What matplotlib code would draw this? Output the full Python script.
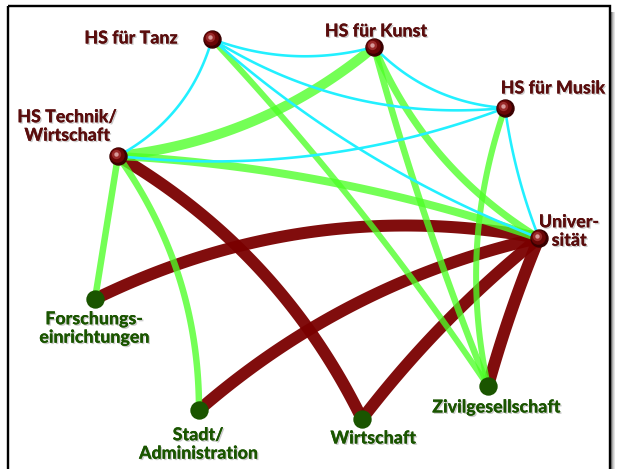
import matplotlib
matplotlib.use("Agg")
import matplotlib.pyplot as plt
import matplotlib.patheffects as pe
from matplotlib.patches import Rectangle
import numpy as np

# node layout (canvas pixels, y downwards)
node_keys = ["tanz", "kunst", "musik", "technik", "uni",
             "forschung", "stadt", "wirtschaft", "zivil"]
node_labels = ["HS für Tanz", "HS für Kunst", "HS für Musik",
               "HS Technik/\nWirtschaft", "Univer-\nsität",
               "Forschungs-\neinrichtungen", "Stadt/\nAdministration",
               "Wirtschaft", "Zivilgesellschaft"]
node_x = [212, 374, 505, 118, 539, 95, 199, 362, 488]
node_y = [39, 47, 108, 156, 238, 299, 410, 419, 386]
node_group = ["hs", "hs", "hs", "hs", "hs", "ext", "ext", "ext", "ext"]
label_x = [131, 376, 553, 67, 569, 94, 198, 373, 496]
label_y = [38, 31, 88, 126, 231, 328, 444, 438, 407]

# links: (from, to, bend)
cyan_links = [("tanz", "technik", -0.21), ("tanz", "kunst", 0.16),
              ("tanz", "musik", 0.17), ("tanz", "uni", 0.09),
              ("kunst", "musik", 0.19), ("musik", "uni", 0.06),
              ("technik", "musik", 0.12)]
green_links = [("technik", "kunst", 0.15), ("technik", "uni", -0.07),
               ("technik", "forschung", 0.0), ("technik", "stadt", -0.16),
               ("tanz", "zivil", -0.04), ("kunst", "zivil", 0.03),
               ("kunst", "uni", 0.16), ("musik", "zivil", 0.14)]
green_width = [10, 8, 6.5, 6.5, 6, 6.5, 7, 6]
red_links = [("technik", "wirtschaft", -0.15), ("forschung", "uni", -0.165),
             ("stadt", "uni", -0.126), ("wirtschaft", "uni", -0.06),
             ("zivil", "uni", -0.03)]


def bezier(a, b, bend, n=80):
    """Quadratic curve between two nodes, bent sideways by ``bend``."""
    i, j = node_keys.index(a), node_keys.index(b)
    p0 = np.array([node_x[i], node_y[i]], dtype=float)
    p1 = np.array([node_x[j], node_y[j]], dtype=float)
    d = p1 - p0
    ctrl = (p0 + p1) / 2 + bend * np.array([-d[1], d[0]])
    t = np.linspace(0, 1, n)[:, None]
    pts = (1 - t) ** 2 * p0 + 2 * (1 - t) * t * ctrl + t ** 2 * p1
    return pts[:, 0], pts[:, 1]


fig = plt.figure(figsize=(6.18, 4.69), dpi=100)
ax = fig.add_axes([0, 0, 1, 1])
ax.set_xlim(0, 618)
ax.set_ylim(469, 0)
ax.axis("off")

px = 0.72  # points per pixel

for a, b, bend in red_links:
    x, y = bezier(a, b, bend)
    ax.plot(x, y, color="#7a0000", alpha=0.95, lw=12 * px,
            solid_capstyle="butt", zorder=2)

for (a, b, bend), w in zip(green_links, green_width):
    x, y = bezier(a, b, bend)
    ax.plot(x, y, color="#4dff26", alpha=0.78, lw=w * px,
            solid_capstyle="butt", zorder=3)

for a, b, bend in cyan_links:
    x, y = bezier(a, b, bend)
    ax.plot(x, y, color="#22f0ff", lw=2.6 * px, zorder=4)

# frame with a small drop shadow on the right
for k, g in enumerate(["#555555", "#888888", "#aaaaaa", "#cccccc", "#e4e4e4"]):
    ax.add_patch(Rectangle((610 + k, 12), 1.2, 470, facecolor=g,
                           edgecolor="none", zorder=1, clip_on=False))
ax.add_patch(Rectangle((8, 6), 602, 480, fill=False, edgecolor="black",
                       lw=2.4 * px, zorder=1, clip_on=False))

# nodes
for xi, yi, grp in zip(node_x, node_y, node_group):
    if grp == "hs":
        ax.scatter(xi, yi, s=150, color="#3a0000", zorder=6)
        ax.scatter(xi - 0.6, yi - 0.6, s=110, color="#6a0606", zorder=6,
                   linewidths=0)
        ax.scatter(xi - 1.6, yi - 1.6, s=45, color="#9a2a2a", zorder=6,
                   linewidths=0)
        ax.scatter(xi - 2.4, yi - 2.4, s=10, color="#d89a9a", zorder=6,
                   linewidths=0)
    else:
        ax.scatter(xi, yi, s=175, color="#1a5500", zorder=6, linewidths=0)

shadow = [pe.withSimplePatchShadow(offset=(1, -1), shadow_rgbFace="#999999",
                                   alpha=0.5),
          pe.Normal()]
for lab, lx, ly, grp in zip(node_labels, label_x, label_y, node_group):
    col = "#5a0d0d" if grp == "hs" else "#1a5500"
    ax.text(lx, ly, lab, ha="center", va="center", fontsize=12.8,
            fontweight="black", family="Lato", linespacing=1.1,
            color=col, path_effects=shadow, zorder=7)

fig.savefig("out.png", dpi=100)
